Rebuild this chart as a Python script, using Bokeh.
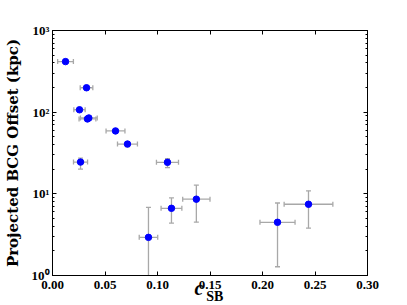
import math
from bokeh.plotting import figure
from bokeh.models import (ColumnDataSource, Whisker, TeeHead, FixedTicker, LinearAxis, LogAxis,
                          NumeralTickFormatter, CustomJSTickFormatter, Range1d)
from bokeh.embed import file_html
from bokeh.resources import INLINE

# ---- data ----
c_sb = [0.0124, 0.0324, 0.0257, 0.0333, 0.0346, 0.0600, 0.0714, 0.0267, 0.1095, 0.0914, 0.1133, 0.1370, 0.2143, 0.2438]
offset = [416, 199, 107, 82.6, 84.9, 58.9, 40.7, 24.5, 24.3, 2.93, 6.65, 8.6, 4.48, 7.45]
c_err = [0.0075, 0.0060, 0.0054, 0.0080, 0.0080, 0.0090, 0.0095, 0.0067, 0.0105, 0.0088, 0.0099, 0.0130, 0.0167, 0.0232]
off_lo = [405, 193, 103, 80, 82, 56, 38, 20.1, 20.9, 0.3, 4.38, 4.5, 1.28, 3.8]
off_hi = [428, 205, 111, 86, 88, 62, 43.5, 27.4, 26.9, 6.84, 8.9, 12.8, 7.72, 10.9]

x_ticks = [0.0, 0.05, 0.10, 0.15, 0.20, 0.25, 0.30]
y_ticks = [1, 10, 100, 1000]
y_tick_labels = {1: "10\u2070", 10: "10\u00b9", 100: "10\u00b2", 1000: "10\u00b3"}
y_minor = [m * 10 ** e for e in range(0, 3) for m in range(2, 10)]
y_title = "Projected BCG Offset (kpc)"
x_title_main = "c"
x_title_sub = "SB"

FONT = "Liberation Serif"
ERR = "#a8a8a8"

src = ColumnDataSource(dict(
    x=c_sb, y=offset,
    xl=[a - b for a, b in zip(c_sb, c_err)],
    xu=[a + b for a, b in zip(c_sb, c_err)],
    yl=off_lo, yu=off_hi,
))

p = figure(frame_width=315, frame_height=245, output_backend="svg", toolbar_location=None,
           y_axis_type="log", x_range=Range1d(0, 0.30), y_range=Range1d(1, 1000),
           min_border_left=51, min_border_right=33, min_border_top=30, min_border_bottom=30)
p.grid.visible = False
p.outline_line_color = "black"
p.background_fill_color = "white"
p.border_fill_color = "white"

def style(ax, labels=True):
    ax.axis_line_color = "black"
    ax.axis_line_width = 1
    ax.major_tick_in = 4
    ax.major_tick_out = 0
    ax.minor_tick_in = 2
    ax.minor_tick_out = 0
    ax.major_tick_line_color = "black"
    ax.minor_tick_line_color = "black"
    ax.major_label_text_font = FONT
    ax.major_label_text_font_style = "bold"
    ax.major_label_text_font_size = "13px"
    ax.major_label_text_color = "black"
    if not labels:
        ax.formatter = CustomJSTickFormatter(code="return ''")
        ax.major_label_standoff = 0

xb = p.xaxis[0]
xb.ticker = FixedTicker(ticks=x_ticks, minor_ticks=[])
xb.formatter = NumeralTickFormatter(format="0.00")
xb.major_label_standoff = 5
style(xb)

yl = p.yaxis[0]
yl.ticker = FixedTicker(ticks=y_ticks, minor_ticks=y_minor)
yl.major_label_overrides = y_tick_labels
yl.major_label_standoff = 3
style(yl)
yl.axis_label = y_title
yl.axis_label_text_font = "DejaVu Serif"
yl.axis_label_text_font_style = "bold"
yl.axis_label_text_font_size = "15px"
yl.axis_label_standoff = 7
yl.axis_label_text_color = "black"

xt = LinearAxis(ticker=FixedTicker(ticks=x_ticks, minor_ticks=[]))
style(xt, labels=False)
p.add_layout(xt, "above")

yr = LogAxis(ticker=FixedTicker(ticks=y_ticks, minor_ticks=y_minor))
style(yr, labels=False)
p.add_layout(yr, "right")

# x axis title "c_SB" built from two label-only axes (italic c, subscript SB)
def title_axis(pos, text, size, style_, standoff):
    ax = LinearAxis(ticker=FixedTicker(ticks=[pos], minor_ticks=[]))
    ax.major_label_overrides = {pos: text}
    ax.axis_line_color = None
    ax.major_tick_line_color = None
    ax.minor_tick_line_color = None
    ax.major_tick_in = 0
    ax.major_tick_out = 0
    ax.major_label_text_font = FONT
    ax.major_label_text_font_style = style_
    ax.major_label_text_font_size = size
    ax.major_label_text_color = "black"
    ax.major_label_standoff = standoff
    return ax

p.add_layout(title_axis(0.1395, x_title_main, "20px", "bold italic", -15), "below")
p.add_layout(title_axis(0.1545, x_title_sub, "14px", "bold", -13), "below")

# error bars
p.add_layout(Whisker(source=src, base="y", lower="xl", upper="xu", dimension="width",
                     line_color=ERR, line_width=1.3,
                     upper_head=TeeHead(size=5, line_color=ERR, line_width=1.3),
                     lower_head=TeeHead(size=5, line_color=ERR, line_width=1.3)))
p.add_layout(Whisker(source=src, base="x", lower="yl", upper="yu", dimension="height",
                     line_color=ERR, line_width=1.3,
                     upper_head=TeeHead(size=5, line_color=ERR, line_width=1.3),
                     lower_head=TeeHead(size=5, line_color=ERR, line_width=1.3)))

p.scatter("x", "y", source=src, size=6.5, fill_color="#0000ff", line_color="#0000ff")

open("out.html", "w").write(file_html(p, INLINE))
